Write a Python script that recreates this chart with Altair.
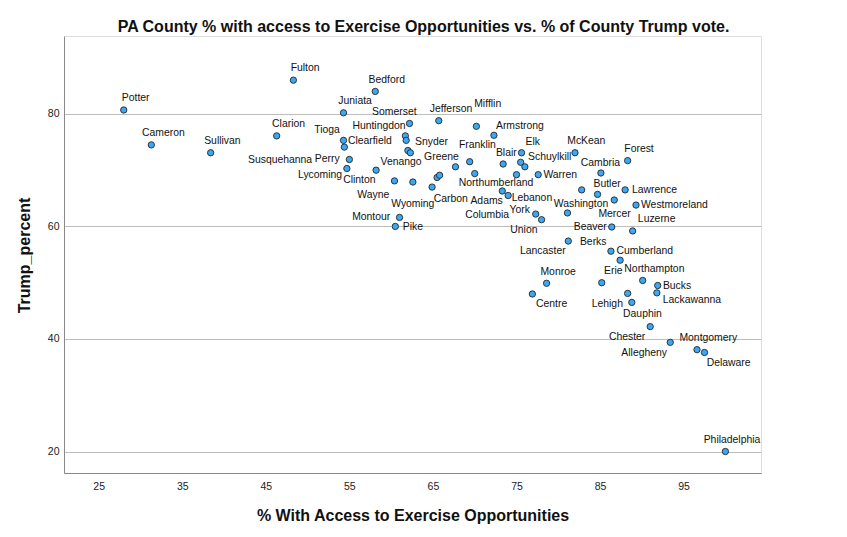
import altair as alt
import pandas as pd

# Pennsylvania counties: % with access to exercise opportunities vs. Trump vote share
counties = [
    "Potter", "Fulton", "Cameron", "Sullivan", "Clarion", "Juniata", "Bedford",
    "Tioga", "Clearfield", "Perry", "Lycoming", "Somerset", "Huntingdon", "Snyder",
    "Clinton", "Susquehanna", "Jefferson", "Mifflin", "Armstrong", "Venango",
    "Wayne", "Wyoming", "Carbon", "Bradford", "Greene", "Crawford", "Franklin",
    "Northumberland", "Blair", "Elk", "Schuylkill", "Fayette", "Columbia", "Warren",
    "Adams", "Lebanon", "York", "Union", "Montour", "Pike", "Centre", "Monroe",
    "Lancaster", "Washington", "McKean", "Forest", "Cambria", "Indiana", "Butler",
    "Lawrence", "Mercer", "Westmoreland", "Beaver", "Luzerne", "Berks", "Cumberland",
    "Erie", "Northampton", "Bucks", "Lackawanna", "Dauphin", "Lehigh", "Chester",
    "Allegheny", "Montgomery", "Delaware", "Philadelphia",
]
access = [
    28.0, 48.3, 31.3, 38.4, 46.3, 54.3, 58.1, 54.3, 54.4, 55.0, 54.7, 62.2, 61.7,
    61.8, 62.0, 62.3, 65.7, 70.2, 72.3, 58.2, 60.4, 62.6, 64.9, 65.5, 65.8, 67.7,
    69.4, 70.0, 73.4, 75.6, 75.5, 76.0, 75.0, 77.6, 73.3, 74.0, 77.3, 78.0, 61.0,
    60.5, 76.9, 78.6, 81.2, 81.1, 82.0, 88.3, 85.1, 82.8, 84.7, 88.0, 86.7, 89.3,
    86.4, 88.9, 86.3, 87.4, 85.2, 90.1, 91.9, 91.8, 88.3, 88.8, 91.0, 93.4, 96.6,
    97.5, 100.0,
]
trump = [
    80.7, 86.0, 74.5, 73.1, 76.1, 80.2, 84.0, 75.3, 74.1, 71.9, 70.3, 78.3, 76.1,
    75.3, 73.5, 73.1, 78.8, 77.8, 76.2, 70.0, 68.1, 67.9, 67.0, 68.7, 69.1, 70.6,
    71.5, 69.4, 71.1, 73.1, 71.4, 70.6, 69.2, 69.2, 66.3, 65.5, 62.2, 61.2, 61.6,
    60.0, 48.0, 49.9, 57.4, 62.4, 73.1, 71.7, 69.5, 66.5, 65.7, 66.5, 64.7, 63.8,
    59.9, 59.2, 55.6, 54.0, 50.0, 50.4, 49.5, 48.2, 48.1, 46.5, 42.2, 39.4, 38.1,
    37.6, 20.0,
]

# Where each county's name sits relative to its marker, in pixels (right, down).
# Counties not listed here are drawn without a name.
label_offsets = {
    "Potter": (11.9, -12), "Fulton": (11.7, -11.7), "Cameron": (12, -11.7),
    "Sullivan": (11.7, -12), "Clarion": (11.9, -11.4), "Juniata": (11.6, -11.4),
    "Bedford": (11.5, -11.7), "Tioga": (-16.5, -10), "Clearfield": (25.5, -6.6),
    "Susquehanna": (-130.3, 7.3), "Perry": (-22.1, -0.8), "Lycoming": (-26.8, 6.6),
    "Clinton": (-48.5, 30), "Somerset": (-15.2, -11.4), "Huntingdon": (-26.4, -10.3),
    "Snyder": (25.3, 2), "Jefferson": (12.3, -11.7), "Mifflin": (11.3, -22),
    "Armstrong": (26, -9.3), "Venango": (25, -8), "Wayne": (-21.2, 14.3),
    "Wyoming": (-0.1, 21.7), "Carbon": (18.6, 12), "Greene": (1.8, -18),
    "Franklin": (7.7, -16.3), "Northumberland": (21.3, 9.6), "Blair": (3.2, -11),
    "Elk": (11.3, -10.3), "Schuylkill": (29, -5.6), "Columbia": (-29.3, 40),
    "Warren": (22, 0), "Adams": (-15.7, 9.7), "Lebanon": (23.8, 2.9),
    "York": (-16, -4.3), "Union": (-17.7, 10), "Montour": (-28.3, 0),
    "Pike": (17.5, 1), "Centre": (19.2, 10), "Monroe": (11.5, -11.2),
    "Lancaster": (-25.5, 10.3), "Berks": (-17.7, -9), "Cumberland": (24.7, -9.7),
    "Washington": (13.6, -8.7), "McKean": (11.3, -11.4), "Forest": (11.4, -11.4),
    "Cambria": (-0.5, -10), "Butler": (9.5, -10.4), "Lawrence": (29.3, 0),
    "Mercer": (0.3, 14), "Westmoreland": (38.4, 0), "Beaver": (-21.5, 0),
    "Luzerne": (24, -12), "Erie": (11.6, -11.7), "Northampton": (11.7, -11.4),
    "Bucks": (19.3, 0.3), "Lackawanna": (35, 7.3), "Dauphin": (14.8, 20.6),
    "Lehigh": (-24.5, 1.3), "Chester": (-23.1, 10), "Allegheny": (-26.1, 10.6),
    "Montgomery": (11.3, -11.7), "Delaware": (24.1, 10.6), "Philadelphia": (6.6, -12),
}

W, H = 697, 437
X_DOMAIN = [20.85, 104.26]
Y_DOMAIN = [16.18, 93.85]
FONT = "Liberation Sans"

df = pd.DataFrame({"county": counties, "access": access, "trump": trump})
ux = (X_DOMAIN[1] - X_DOMAIN[0]) / W
uy = (Y_DOMAIN[1] - Y_DOMAIN[0]) / H
df["label"] = [c if c in label_offsets else "" for c in counties]
df["lx"] = [a + label_offsets.get(c, (0, 0))[0] * ux for c, a in zip(counties, access)]
df["ly"] = [t - label_offsets.get(c, (0, 0))[1] * uy for c, t in zip(counties, trump)]

x_scale = alt.Scale(domain=X_DOMAIN, nice=False, zero=False)
y_scale = alt.Scale(domain=Y_DOMAIN, nice=False, zero=False)

x_axis = alt.Axis(
    values=[25, 35, 45, 55, 65, 75, 85, 95], grid=False, ticks=False, tickSize=0,
    labelPadding=8, labelFontSize=10.5, labelFont=FONT, labelColor="#222222",
    domainColor="#8a8a8a", title="% With Access to Exercise Opportunities",
    titleFont=FONT, titleFontSize=16, titleFontWeight="bold", titleColor="#111111",
    titleBaseline="alphabetic", titleY=47,
)
y_axis = alt.Axis(
    values=[20, 40, 60, 80], grid=True, gridColor="#bdbdbd", gridWidth=1,
    ticks=False, tickSize=0, labelPadding=5, labelFontSize=10.5, labelFont=FONT,
    labelColor="#222222", domainColor="#8a8a8a", title="Trump_percent",
    titleFont=FONT, titleFontSize=16, titleFontWeight="bold", titleColor="#111111",
    titleAngle=270, titleBaseline="alphabetic", titleX=-35, titleY=219,
)

points = alt.Chart(df).mark_circle(
    size=40, color="#3aa8f4", opacity=1, stroke="#262626", strokeWidth=0.9
).encode(
    x=alt.X("access:Q", scale=x_scale, axis=x_axis),
    y=alt.Y("trump:Q", scale=y_scale, axis=y_axis),
)

labels = alt.Chart(df).transform_filter("datum.label != ''").mark_text(
    font=FONT, fontSize=10.4, color="#111111", align="center", baseline="middle"
).encode(
    x=alt.X("lx:Q", scale=x_scale, axis=x_axis),
    y=alt.Y("ly:Q", scale=y_scale, axis=y_axis),
    text="label:N",
)

chart = alt.layer(points, labels).properties(
    width=W,
    height=H,
    autosize="none",
    padding={"left": 64, "top": 36, "right": 86, "bottom": 64},
    title=alt.TitleParams(
        "PA County % with access to Exercise Opportunities vs. % of County Trump vote.",
        font=FONT, fontSize=16, fontWeight="bold", color="#111111",
        anchor="middle", baseline="alphabetic", offset=6, dx=11, dy=18,
    ),
).configure_view(stroke=None).configure(background="white")

chart.save("out.html", embed_options={"renderer": "svg", "actions": False})
